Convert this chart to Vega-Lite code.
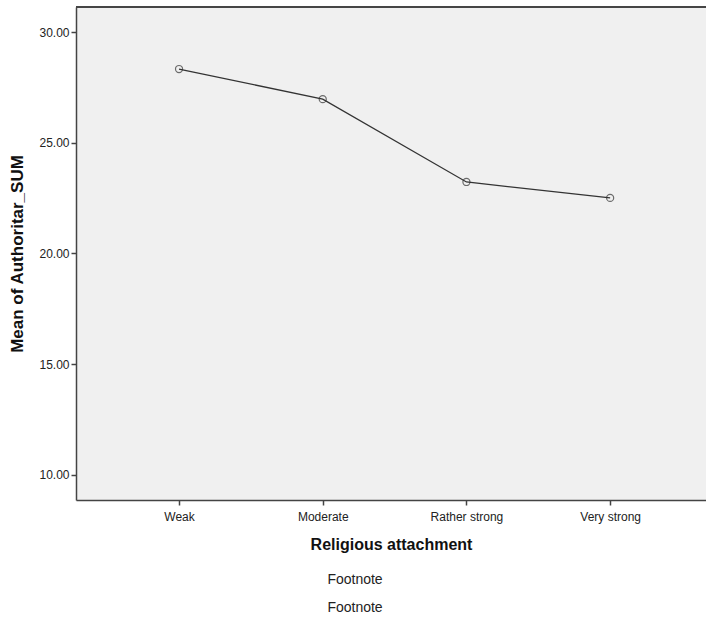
{
  "$schema": "https://vega.github.io/schema/vega-lite/v6.json",
  "autosize": {"type": "none"},
  "padding": {"left": 76, "top": 7, "right": 0, "bottom": 117},
  "width": 630,
  "height": 493,
  "background": "white",
  "title": {
    "text": ["Footnote", "Footnote"],
    "orient": "bottom",
    "anchor": "middle",
    "dx": -36,
    "offset": 21,
    "fontSize": 14,
    "fontWeight": "normal",
    "font": "Liberation Sans",
    "color": "#222",
    "lineHeight": 28
  },
  "config": {
    "view": {"stroke": null, "fill": "#F0F0F0"},
    "axis": {
      "labelFont": "Liberation Sans",
      "titleFont": "Liberation Sans",
      "labelColor": "#222",
      "titleColor": "#111",
      "domainColor": "#444",
      "domainWidth": 1.5,
      "tickColor": "#444",
      "tickWidth": 1.5,
      "tickSize": 5,
      "grid": false,
      "labelFontSize": 12
    }
  },
  "data": {
    "values": [
      {"attachment": "Weak", "mean": 28.33},
      {"attachment": "Moderate", "mean": 26.97},
      {"attachment": "Rather strong", "mean": 23.23},
      {"attachment": "Very strong", "mean": 22.51}
    ]
  },
  "layer": [
    {
      "mark": {"type": "rule", "color": "#444", "strokeWidth": 1.5},
      "encoding": {"y": {"datum": 31.13, "type": "quantitative"}}
    },
    {
      "mark": {"type": "line", "color": "#333", "strokeWidth": 1.3},
      "encoding": {
        "x": {
          "field": "attachment",
          "type": "ordinal",
          "sort": null,
          "scale": {"type": "point", "padding": 0.692, "align": 0.518},
          "axis": {
            "title": "Religious attachment",
            "labelAngle": 0,
            "labelPadding": 6,
            "titleFontSize": 16,
            "titleFontWeight": "bold",
            "titlePadding": 14
          }
        },
        "y": {
          "field": "mean",
          "type": "quantitative",
          "scale": {"domain": [8.87, 31.13], "nice": false, "zero": false},
          "axis": {
            "title": "Mean of Authoritar_SUM",
            "values": [10, 15, 20, 25, 30],
            "format": ".2f",
            "labelPadding": 2,
            "titleFontSize": 17,
            "titleFontWeight": "bold",
            "titlePadding": 12
          }
        }
      }
    },
    {
      "mark": {"type": "point", "shape": "circle", "filled": false, "size": 50, "color": "#333", "strokeWidth": 1.2},
      "encoding": {
        "x": {"field": "attachment", "type": "ordinal", "sort": null},
        "y": {"field": "mean", "type": "quantitative"}
      }
    }
  ]
}
